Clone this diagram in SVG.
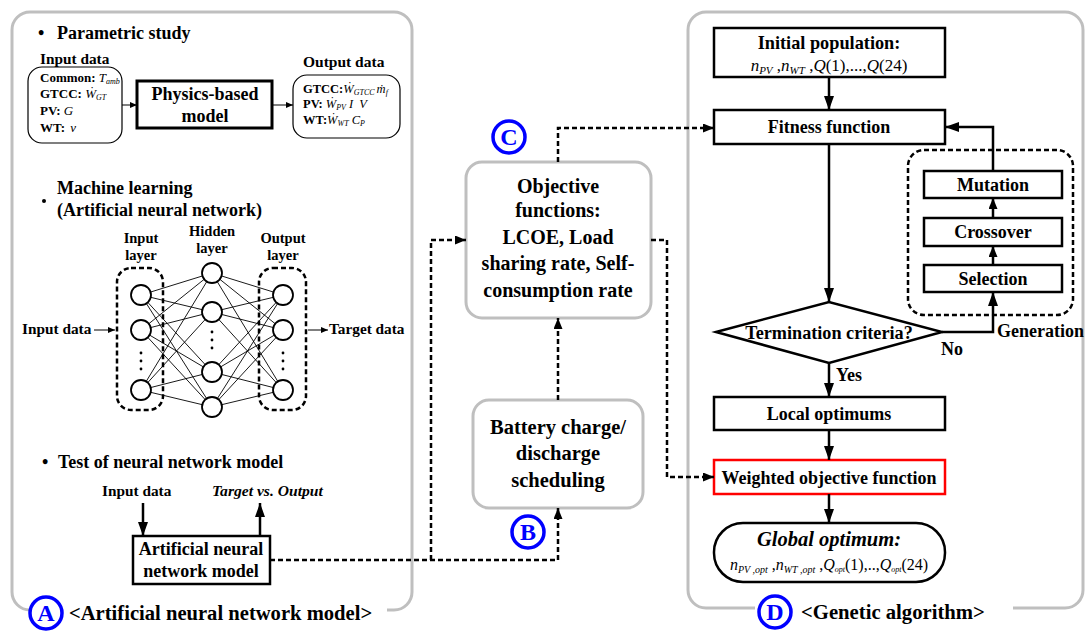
<svg xmlns="http://www.w3.org/2000/svg" width="1085" height="632" viewBox="0 0 1085 632" font-family="'Liberation Serif', Tinos, 'DejaVu Serif', serif">
  <style>
    text { font-family: 'Liberation Serif', Tinos, 'DejaVu Serif', serif; font-weight: bold; fill: #000; }
    .panel { fill: none; stroke: #bfbfbf; stroke-width: 3; }
    .gbox { fill: #fff; stroke: #bfbfbf; stroke-width: 3; }
    .box { fill: #fff; stroke: #000; stroke-width: 2.5; }
    .thin { fill: #fff; stroke: #000; stroke-width: 1.2; }
    .flow { fill: none; stroke: #000; stroke-width: 2.5; }
    .dot { fill: none; stroke: #000; stroke-width: 2.5; stroke-dasharray: 5 3; }
    .dashbox { fill: none; stroke: #000; stroke-width: 2.5; stroke-dasharray: 5 3; }
    .syn { stroke: #000; stroke-width: 0.9; }
    .node { fill: #fff; stroke: #000; stroke-width: 1.8; }
    .tag { fill: #fff; stroke: #0000ff; stroke-width: 3.5; }
    .tagt { fill: #0000ff; font-size: 24px; text-anchor: middle; }
    .c { text-anchor: middle; }
    .m { font-style: italic; font-weight: normal; }
    .nw { font-weight: normal; }
    .i { font-style: italic; }
    .sub { font-size: 8px; }
    .lyr { font-size: 14.5px; text-anchor: middle; }
  </style>
  <defs>
    <marker id="ah" viewBox="0 0 14 10" refX="14" refY="5" markerWidth="14" markerHeight="10" markerUnits="userSpaceOnUse" orient="auto">
      <path d="M0,0 L14,5 L0,10 z" fill="#000"/>
    </marker>
    <marker id="ahs" viewBox="0 0 11 9" refX="11" refY="4.5" markerWidth="11" markerHeight="9" markerUnits="userSpaceOnUse" orient="auto">
      <path d="M0,0 L11,4.5 L0,9 z" fill="#000"/>
    </marker>
    <marker id="aht" viewBox="0 0 7 6" refX="7" refY="3" markerWidth="7" markerHeight="6" markerUnits="userSpaceOnUse" orient="auto">
      <path d="M0,0 L7,3 L0,6 z" fill="#000"/>
    </marker>
  </defs>

  <!-- Panel frames with gaps for their captions -->
  <path class="panel" d="M387,610 H394 A18,18 0 0 0 412,592 V30 A18,18 0 0 0 394,12 H30 A18,18 0 0 0 12,30 V592 A18,18 0 0 0 30,610 H29"/>
  <path class="panel" d="M1013,608 H1065 A18,18 0 0 0 1083,590 V30 A18,18 0 0 0 1065,12 H706 A18,18 0 0 0 688,30 V590 A18,18 0 0 0 706,608 H755"/>

  <!-- Section A: parametric study -->
  <g id="parametric-study">
    <text x="38" y="39" font-size="18">•</text>
    <text x="57" y="39" font-size="18">Parametric study</text>
    <text x="40" y="64" font-size="15.3">Input data</text>
    <rect class="thin" x="28" y="67" width="94" height="76" rx="14"/>
    <text x="40" y="82" font-size="13">Common: <tspan class="m">T</tspan><tspan class="m sub" dy="2">amb</tspan></text>
    <text x="40" y="98" font-size="13">GTCC: <tspan class="m">Ẇ</tspan><tspan class="m sub" dy="2">GT</tspan></text>
    <text x="40" y="115" font-size="13">PV: <tspan class="m">G</tspan></text>
    <text x="40" y="132" font-size="13">WT: <tspan class="m" dx="2">v</tspan></text>
    <line x1="122" y1="105" x2="137" y2="105" stroke="#000" stroke-width="1" marker-end="url(#aht)"/>
    <rect x="137" y="81" width="135" height="47" fill="#fff" stroke="#000" stroke-width="3"/>
    <text class="c" x="205" y="100" font-size="18">Physics-based</text>
    <text class="c" x="205" y="122" font-size="18">model</text>
    <line x1="272" y1="105" x2="293" y2="105" stroke="#000" stroke-width="1" marker-end="url(#aht)"/>
    <text x="303" y="67" font-size="15.5">Output data</text>
    <rect class="thin" x="293" y="75" width="107" height="63" rx="14"/>
    <text x="303" y="93" font-size="12.5">GTCC:<tspan class="m">Ẇ</tspan><tspan class="m sub" dy="2">GTCC</tspan><tspan class="m" dy="-2" dx="2">ṁ</tspan><tspan class="m sub" dy="2">f</tspan></text>
    <text x="303" y="108" font-size="12.5">PV: <tspan class="m">Ẇ</tspan><tspan class="m sub" dy="2">PV</tspan><tspan class="m" dy="-2" dx="3">I</tspan><tspan class="m" dx="6">V</tspan></text>
    <text x="303" y="124" font-size="12.5">WT:<tspan class="m">Ẇ</tspan><tspan class="m sub" dy="2">WT</tspan><tspan class="m" dy="-2" dx="3">C</tspan><tspan class="m sub" dy="2">P</tspan></text>
  </g>

  <!-- Section A: neural network sketch -->
  <g id="neural-network">
    <circle cx="44" cy="201" r="2"/>
    <text x="57" y="194" font-size="18">Machine learning</text>
    <text x="57" y="216" font-size="18">(Artificial neural network)</text>
    <text class="lyr" x="141" y="243">Input</text>
    <text class="lyr" x="141" y="259.5">layer</text>
    <text class="lyr" x="212" y="236">Hidden</text>
    <text class="lyr" x="212" y="252.5">layer</text>
    <text class="lyr" x="283" y="243">Output</text>
    <text class="lyr" x="283" y="259.5">layer</text>
    <rect class="dashbox" x="117" y="268" width="46" height="142" rx="14"/>
    <rect class="dashbox" x="259" y="268" width="47" height="142" rx="14"/>
    <g class="syn">
      <line x1="141" y1="295" x2="212" y2="273"/><line x1="141" y1="295" x2="212" y2="312"/><line x1="141" y1="295" x2="212" y2="372"/><line x1="141" y1="295" x2="212" y2="407"/>
      <line x1="141" y1="330" x2="212" y2="273"/><line x1="141" y1="330" x2="212" y2="312"/><line x1="141" y1="330" x2="212" y2="372"/><line x1="141" y1="330" x2="212" y2="407"/>
      <line x1="141" y1="390" x2="212" y2="273"/><line x1="141" y1="390" x2="212" y2="312"/><line x1="141" y1="390" x2="212" y2="372"/><line x1="141" y1="390" x2="212" y2="407"/>
      <line x1="283" y1="295" x2="212" y2="273"/><line x1="283" y1="295" x2="212" y2="312"/><line x1="283" y1="295" x2="212" y2="372"/><line x1="283" y1="295" x2="212" y2="407"/>
      <line x1="283" y1="330" x2="212" y2="273"/><line x1="283" y1="330" x2="212" y2="312"/><line x1="283" y1="330" x2="212" y2="372"/><line x1="283" y1="330" x2="212" y2="407"/>
      <line x1="283" y1="390" x2="212" y2="273"/><line x1="283" y1="390" x2="212" y2="312"/><line x1="283" y1="390" x2="212" y2="372"/><line x1="283" y1="390" x2="212" y2="407"/>
    </g>
    <circle class="node" cx="141" cy="295" r="10"/>
    <circle class="node" cx="141" cy="330" r="10"/>
    <circle class="node" cx="141" cy="390" r="10"/>
    <circle class="node" cx="212" cy="273" r="10"/>
    <circle class="node" cx="212" cy="312" r="10"/>
    <circle class="node" cx="212" cy="372" r="10"/>
    <circle class="node" cx="212" cy="407" r="10"/>
    <circle class="node" cx="283" cy="295" r="10"/>
    <circle class="node" cx="283" cy="330" r="10"/>
    <circle class="node" cx="283" cy="390" r="10"/>
    <g fill="#000">
      <circle cx="141" cy="353" r="1.4"/><circle cx="141" cy="361" r="1.4"/><circle cx="141" cy="369" r="1.4"/>
      <circle cx="212" cy="332" r="1.4"/><circle cx="212" cy="340" r="1.4"/><circle cx="212" cy="348" r="1.4"/>
      <circle cx="283" cy="353" r="1.4"/><circle cx="283" cy="361" r="1.4"/><circle cx="283" cy="369" r="1.4"/>
    </g>
    <text x="22" y="334" font-size="15.3">Input data</text>
    <line x1="94" y1="330" x2="115" y2="330" stroke="#000" stroke-width="1" marker-end="url(#aht)"/>
    <line x1="308" y1="330" x2="328" y2="330" stroke="#000" stroke-width="1" marker-end="url(#aht)"/>
    <text x="329" y="334" font-size="15.3">Target data</text>
  </g>

  <!-- Section A: model test -->
  <g id="model-test">
    <text x="42" y="468" font-size="18">•</text>
    <text x="58" y="468" font-size="18">Test of neural network model</text>
    <text x="102" y="496" font-size="15.3">Input data</text>
    <text class="i" x="212" y="496" font-size="15.6">Target vs. Output</text>
    <line class="flow" x1="143" y1="503" x2="143" y2="536" marker-end="url(#ah)"/>
    <line class="flow" x1="260" y1="536" x2="260" y2="503" marker-end="url(#ah)"/>
  </g>
  <g id="ann-model">
    <rect class="box" x="133" y="536" width="137" height="48"/>
    <text class="c" x="201" y="555" font-size="18">Artificial neural</text>
    <text class="c" x="201" y="577" font-size="18">network model</text>
  </g>

  <!-- Middle column -->
  <g id="objective-functions">
    <rect class="gbox" x="466" y="162" width="185" height="156" rx="16"/>
    <text class="c" x="558" y="193" font-size="20">Objective</text>
    <text class="c" x="558" y="217" font-size="20">functions:</text>
    <text class="c" x="558" y="244" font-size="20">LCOE, Load</text>
    <text class="c" x="558" y="270" font-size="20">sharing rate, Self-</text>
    <text class="c" x="558" y="297" font-size="20">consumption rate</text>
  </g>
  <g id="battery-scheduling">
    <rect class="gbox" x="473" y="400" width="170" height="108" rx="16"/>
    <text class="c" x="558" y="434" font-size="20.5">Battery charge/</text>
    <text class="c" x="558" y="460" font-size="20.5">discharge</text>
    <text class="c" x="558" y="487" font-size="20.5">scheduling</text>
  </g>

  <!-- Section D: genetic algorithm -->
  <g id="initial-population">
    <rect class="box" x="714" y="28" width="231" height="49"/>
    <text class="c" x="829" y="49" font-size="18.3">Initial population:</text>
    <text class="c nw" x="829" y="71" font-size="17"><tspan class="i">n</tspan><tspan class="i" font-size="11" dy="3">PV</tspan><tspan dy="-3"> ,</tspan><tspan class="i">n</tspan><tspan class="i" font-size="11" dy="3">WT</tspan><tspan dy="-3"> ,</tspan><tspan class="i">Q</tspan>(1),...,<tspan class="i">Q</tspan>(24)</text>
  </g>
  <g id="fitness-function">
    <rect class="box" x="714" y="110" width="231" height="34"/>
    <text class="c" x="829" y="133" font-size="18">Fitness function</text>
  </g>
  <g id="generation-loop">
    <rect class="dashbox" x="908" y="150" width="165" height="165" rx="16"/>
  </g>
  <g id="mutation">
    <rect class="box" x="924" y="171" width="138" height="27"/>
    <text class="c" x="993" y="191" font-size="18">Mutation</text>
  </g>
  <g id="crossover">
    <rect class="box" x="924" y="218" width="138" height="28"/>
    <text class="c" x="993" y="238" font-size="18">Crossover</text>
  </g>
  <g id="selection">
    <rect class="box" x="924" y="265" width="138" height="27"/>
    <text class="c" x="993" y="285" font-size="18">Selection</text>
  </g>
  <g id="termination">
    <polygon points="716,332 829,302 942,332 829,363" fill="#fff" stroke="#000" stroke-width="2.5"/>
    <text class="c" x="829" y="339" font-size="18.2">Termination criteria?</text>
  </g>
  <g id="local-optimums">
    <rect class="box" x="714" y="397" width="231" height="33"/>
    <text class="c" x="829" y="420" font-size="18">Local optimums</text>
  </g>
  <g id="weighted-objective">
    <rect x="714" y="460" width="231" height="34" fill="#fff" stroke="#ff0000" stroke-width="2.5"/>
    <text class="c" x="829" y="484" font-size="18">Weighted objective function</text>
  </g>
  <g id="global-optimum">
    <rect class="box" x="714" y="523" width="231" height="59" rx="29"/>
    <text class="c i" x="829" y="546" font-size="20.5">Global optimum:</text>
    <text class="c nw" x="829" y="570" font-size="16"><tspan class="i">n</tspan><tspan class="i" font-size="10" dy="3">PV ,opt</tspan><tspan dy="-3"> ,</tspan><tspan class="i">n</tspan><tspan class="i" font-size="10" dy="3">WT ,opt</tspan><tspan dy="-3"> ,</tspan><tspan class="i">Q</tspan><tspan class="i" font-size="8" dy="2">opt</tspan><tspan dy="-2">(1),..,</tspan><tspan class="i">Q</tspan><tspan class="i" font-size="8" dy="2">opt</tspan><tspan dy="-2">(24)</tspan></text>
  </g>
  <g id="labels">
    <text x="941" y="355" font-size="18">No</text>
    <text x="997" y="337" font-size="18">Generation</text>
    <text x="836" y="381" font-size="18">Yes</text>
  </g>

  <!-- Connectors -->
  <g id="connectors">
    <line class="flow" x1="829" y1="77" x2="829" y2="110" marker-end="url(#ah)"/>
    <line class="flow" x1="829" y1="144" x2="829" y2="302" marker-end="url(#ah)"/>
    <line class="flow" x1="829" y1="363" x2="829" y2="397" marker-end="url(#ah)"/>
    <line class="flow" x1="829" y1="430" x2="829" y2="460" marker-end="url(#ah)"/>
    <line class="flow" x1="829" y1="494" x2="829" y2="523" marker-end="url(#ah)"/>
    <polyline class="flow" points="942,332 993,332 993,292" marker-end="url(#ah)"/>
    <line class="flow" x1="993" y1="265" x2="993" y2="246" marker-end="url(#ahs)"/>
    <line class="flow" x1="993" y1="218" x2="993" y2="198" marker-end="url(#ahs)"/>
    <polyline class="flow" points="993,171 993,127 945,127" marker-end="url(#ah)"/>
    <polyline class="dot" points="558,162 558,128 714,128" marker-end="url(#ahs)"/>
    <polyline class="dot" points="651,240 667,240 667,477 714,477" marker-end="url(#ahs)"/>
    <line class="dot" x1="558" y1="400" x2="558" y2="318" marker-end="url(#ahs)"/>
    <polyline class="dot" points="270,560 558,560 558,508" marker-end="url(#ahs)"/>
    <polyline class="dot" points="431,560 431,240 466,240" marker-end="url(#ahs)"/>
  </g>

  <!-- Section tags and captions -->
  <g id="tag-a">
    <circle class="tag" cx="46" cy="613" r="16"/>
    <text class="tagt" x="46" y="621">A</text>
    <text x="69" y="620" font-size="20.6">&lt;Artificial neural network model&gt;</text>
  </g>
  <g id="tag-b">
    <circle class="tag" cx="528" cy="532" r="16"/>
    <text class="tagt" x="528" y="540">B</text>
  </g>
  <g id="tag-c">
    <circle class="tag" cx="509" cy="137" r="16"/>
    <text class="tagt" x="509" y="145">C</text>
  </g>
  <g id="tag-d">
    <circle class="tag" cx="775" cy="612" r="16"/>
    <text class="tagt" x="775" y="620">D</text>
    <text x="801" y="619" font-size="20.7">&lt;Genetic algorithm&gt;</text>
  </g>
</svg>
